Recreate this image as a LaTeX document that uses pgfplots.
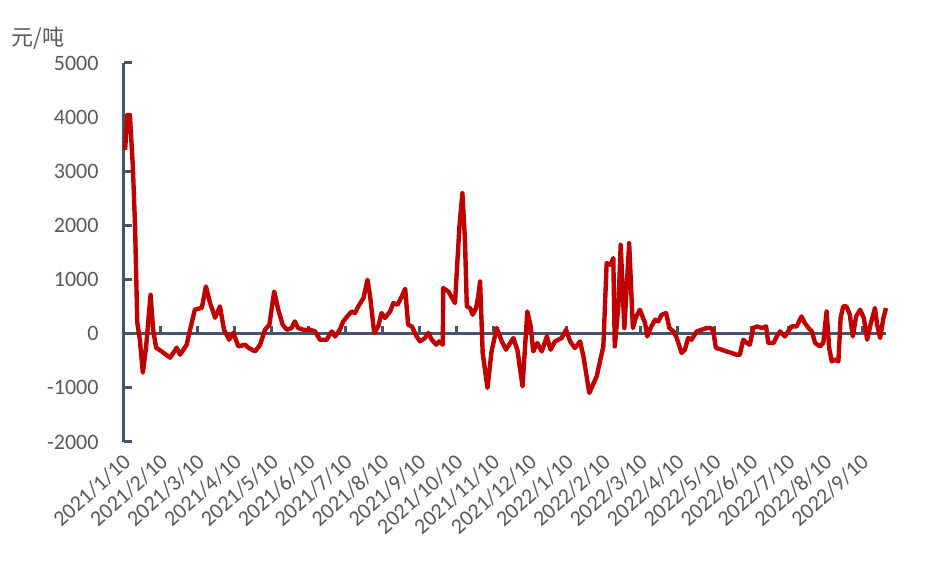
\documentclass[border=0pt]{standalone}
\usepackage{fontspec}
\setmainfont{Carlito}
\newfontfamily\cjk{Noto Sans CJK SC}
\usepackage{pgfplots}
\pgfplotsset{compat=1.18}
\definecolor{axisgray}{HTML}{44546A}
\definecolor{linered}{HTML}{C00000}
\definecolor{labelgray}{HTML}{595959}

\begin{document}
\begin{tikzpicture}
\path[use as bounding box] (-124pt,-122pt) rectangle (816pt,442pt);
\begin{axis}[
    at={(0pt,0pt)}, anchor=south west,
    scale only axis, width=762pt, height=379pt,
    xmin=0, xmax=20.65, ymin=-2000, ymax=5000,
    axis x line=middle, axis y line=left,
    hide obscured x ticks=false, hide obscured y ticks=false,
    axis line style={axisgray, line width=3pt, -},
    every inner x axis line/.append style={-},
    every outer y axis line/.append style={-},
    xtick={0,1,...,20},
    xticklabels={2021/1/10,2021/2/10,2021/3/10,2021/4/10,2021/5/10,2021/6/10,
      2021/7/10,2021/8/10,2021/9/10,2021/10/10,2021/11/10,2021/12/10,
      2022/1/10,2022/2/10,2022/3/10,2022/4/10,2022/5/10,2022/6/10,
      2022/7/10,2022/8/10,2022/9/10},
    ytick={-2000,-1000,0,1000,2000,3000,4000,5000},
    tick align=inside,
    major tick length=8pt,
    major tick style={axisgray, line width=3pt},
    /pgf/number format/assume math mode=true,
    /pgf/number format/1000 sep={},
    ticklabel style={font=\fontsize{22}{26}\selectfont, text=labelgray},
    xticklabel style={yshift=-114pt, xshift=-2pt, rotate=42, anchor=north east},
    yticklabel style={xshift=-22pt},
    clip=false,
]
\addplot[linered, line width=4.4pt, line join=round] coordinates {
(0.03,3395) (0.09,4040) (0.16,4040) (0.24,3087) (0.30,1980) (0.36,203)
(0.43,-111) (0.51,-720) (0.60,-234) (0.72,720) (0.79,74) (0.87,-258)
(1.02,-327) (1.25,-443) (1.43,-258) (1.52,-387) (1.70,-203) (1.79,74)
(1.92,443) (2.11,480) (2.22,873) (2.33,572) (2.47,295) (2.60,504)
(2.71,74) (2.85,-111) (2.96,18) (3.10,-234) (3.28,-203) (3.37,-258)
(3.55,-327) (3.69,-203) (3.82,74) (3.94,166) (4.07,780) (4.18,443)
(4.30,166) (4.41,74) (4.54,105) (4.63,227) (4.72,105) (4.86,74)
(5.04,74) (5.18,42) (5.31,-111) (5.49,-111) (5.63,42) (5.72,-50)
(5.85,74) (5.94,227) (6.05,319) (6.17,411) (6.26,382) (6.35,504)
(6.49,659) (6.60,996) (6.67,688) (6.78,13) (6.89,135) (6.98,382)
(7.07,290) (7.21,411) (7.30,566) (7.41,535) (7.53,688) (7.62,830)
(7.70,166) (7.80,135) (7.93,-50) (8.02,-142) (8.16,-79) (8.25,13)
(8.34,-111) (8.46,-203) (8.54,-142) (8.64,-203) (8.65,843) (8.79,780)
(8.97,566) (9.09,1980) (9.17,2596) (9.24,1734) (9.29,504) (9.38,474)
(9.45,350) (9.54,474) (9.60,688) (9.65,965) (9.72,-356) (9.85,-1002)
(9.96,-327) (10.10,105) (10.24,-142) (10.35,-295) (10.55,-79) (10.66,-295)
(10.80,-972) (10.93,411) (11.02,135) (11.09,-327) (11.20,-172) (11.32,-327)
(11.46,-50) (11.56,-295) (11.68,-142) (11.86,-79) (11.98,74) (12.09,-142)
(12.22,-264) (12.36,-142) (12.45,-419) (12.61,-1094) (12.81,-788) (12.99,-234)
(13.08,1304) (13.19,1273) (13.26,1397) (13.30,-234) (13.40,535) (13.46,1642)
(13.56,105) (13.69,1673) (13.79,105) (13.88,319) (13.98,443) (14.12,197)
(14.18,-50) (14.27,105) (14.39,258) (14.48,227) (14.57,350) (14.69,382)
(14.78,105) (14.89,42) (14.98,-79) (15.11,-356) (15.20,-295) (15.29,-79)
(15.38,-111) (15.52,42) (15.66,74) (15.79,105) (15.90,105) (15.97,42)
(16.04,-264) (16.20,-295) (16.33,-327) (16.47,-356) (16.60,-387) (16.69,-387)
(16.78,-111) (16.88,-172) (16.96,-203) (17.05,105) (17.16,135) (17.28,105)
(17.40,135) (17.46,-172) (17.60,-172) (17.69,-50) (17.78,42) (17.91,-50)
(18.00,42) (18.09,135) (18.23,135) (18.36,319) (18.45,197) (18.55,105)
(18.64,42) (18.73,-172) (18.86,-234) (18.95,-172) (19.04,411) (19.11,-264)
(19.18,-511) (19.27,-480) (19.36,-511) (19.42,290) (19.49,504) (19.58,504)
(19.67,350) (19.75,-50) (19.84,319) (19.95,443) (20.05,290) (20.14,-111)
(20.23,166) (20.35,474) (20.41,166) (20.49,-79) (20.58,290) (20.65,474)
};
\end{axis}
\node[font=\cjk\fontsize{22}{26}\selectfont, text=labelgray] at (-86pt,404pt) {元/吨};
\end{tikzpicture}
\end{document}
